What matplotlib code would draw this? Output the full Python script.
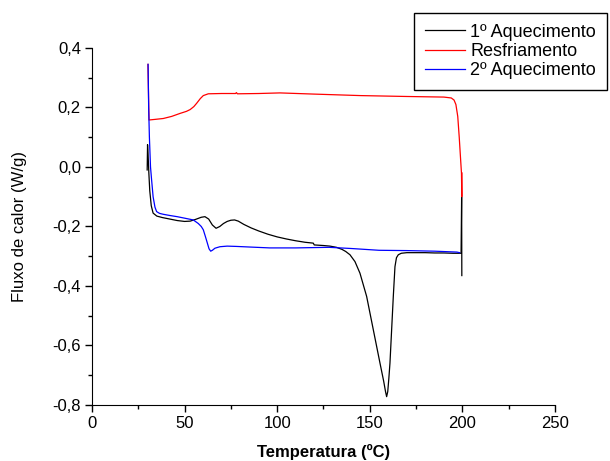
import numpy as np
import matplotlib
matplotlib.use('Agg')
import matplotlib.pyplot as plt
from matplotlib.ticker import MultipleLocator, FuncFormatter

plt.rcParams['font.family'] = ['Liberation Sans', 'DejaVu Sans']

# 1º Aquecimento
x_aq1 = [29.8, 30.0, 30.3, 30.7, 31.2, 32, 33, 35, 38, 42, 46, 50, 53, 56, 59, 61, 63, 65,
         67, 69, 71, 73, 75, 77, 79, 82, 86, 90, 95, 100, 105, 110, 115, 119.5, 120, 125,
         128.5, 132, 135, 137, 139.3, 142, 144.7, 148.3, 151.9, 155.5, 157.5, 158.5, 159.1,
         159.7, 160.3, 160.9, 161.8, 162.7, 163.6, 164.4, 165.4, 167, 170, 175, 180, 185,
         190, 195, 199.3, 199.6, 199.7]
y_aq1 = [-0.01, 0.075, 0.04, -0.02, -0.08, -0.13, -0.155, -0.165, -0.17, -0.175, -0.18,
         -0.183, -0.182, -0.176, -0.169, -0.167, -0.175, -0.195, -0.206, -0.2, -0.19, -0.183,
         -0.179, -0.178, -0.182, -0.193, -0.205, -0.215, -0.226, -0.235, -0.242, -0.248,
         -0.253, -0.256, -0.262, -0.264, -0.266, -0.27, -0.277, -0.284, -0.295, -0.318,
         -0.357, -0.435, -0.547, -0.659, -0.72, -0.755, -0.772, -0.755, -0.71, -0.659,
         -0.547, -0.435, -0.335, -0.305, -0.295, -0.29, -0.288, -0.288, -0.288, -0.289,
         -0.289, -0.29, -0.29, -0.10, -0.365]

# Resfriamento
x_resf = [30.2, 30.5, 30.8, 34, 38.5, 43, 47.5, 51, 53, 55, 56.5, 58.5, 60.1, 62.8, 70,
          77.5, 78, 78.5, 90, 101.5, 120, 145, 170, 190, 194, 195.5, 196.5, 197.5, 198.3,
          199, 199.5, 199.7, 199.75]
y_resf = [0.345, 0.25, 0.158, 0.16, 0.163, 0.17, 0.18, 0.187, 0.193, 0.203, 0.214, 0.23,
          0.24, 0.246, 0.247, 0.247, 0.25, 0.246, 0.247, 0.249, 0.245, 0.24, 0.237, 0.235,
          0.232, 0.225, 0.21, 0.17, 0.1, 0.03, -0.02, -0.1, -0.02]

# 2º Aquecimento
x_aq2 = [30.3, 30.6, 31.0, 31.6, 32.2, 33, 34, 34.9, 36.5, 38.5, 42, 46, 50, 54.7, 57.4,
         59, 60.1, 61.2, 62.3, 63.2, 64.1, 65, 66.4, 69.1, 73, 78, 85, 96, 110, 128, 140,
         155, 170, 185, 197, 198.5]
y_aq2 = [0.345, 0.2, 0.1, 0.0, -0.044, -0.1, -0.135, -0.15, -0.156, -0.159, -0.163,
         -0.167, -0.172, -0.178, -0.19, -0.2, -0.211, -0.233, -0.256, -0.275, -0.283,
         -0.28, -0.273, -0.268, -0.266, -0.267, -0.269, -0.272, -0.272, -0.27, -0.274,
         -0.28, -0.281, -0.283, -0.286, -0.288]

fig = plt.figure(figsize=(6.1, 4.61), dpi=100)
ax = fig.add_axes([0.1508, 0.1215, 0.759, 0.7744])

ax.plot(x_aq1, y_aq1, color='black', lw=0.9, label='1º Aquecimento')
ax.plot(x_resf, y_resf, color='red', lw=0.9, label='Resfriamento')
ax.plot(x_aq2, y_aq2, color='blue', lw=0.9, label='2º Aquecimento')

ax.set_xlim(0, 250)
ax.set_ylim(-0.8, 0.4)
ax.spines['top'].set_visible(False)
ax.spines['right'].set_visible(False)
ax.xaxis.set_major_locator(MultipleLocator(50))
ax.xaxis.set_minor_locator(MultipleLocator(25))
ax.yaxis.set_major_locator(MultipleLocator(0.2))
ax.yaxis.set_minor_locator(MultipleLocator(0.1))
ax.yaxis.set_major_formatter(FuncFormatter(lambda v, p: ('%.1f' % v).replace('.', ',').replace('−', '-')))
ax.tick_params(which='major', direction='out', length=5, width=1, labelsize=12, pad=3)
ax.tick_params(which='minor', direction='out', length=3, width=1)

ax.set_xlabel('Temperatura (ºC)', fontsize=12, fontweight='bold', labelpad=9)
ax.set_ylabel('Fluxo de calor (W/g)', fontsize=12, labelpad=18)

fig.legend(loc='upper right', bbox_to_anchor=(0.995, 0.972), fontsize=13,
           fancybox=False, edgecolor='black', framealpha=1, borderaxespad=0,
           handlelength=2.2, handletextpad=0.3, labelspacing=0.12, borderpad=0.6)

fig.savefig('out.png', dpi=100)
